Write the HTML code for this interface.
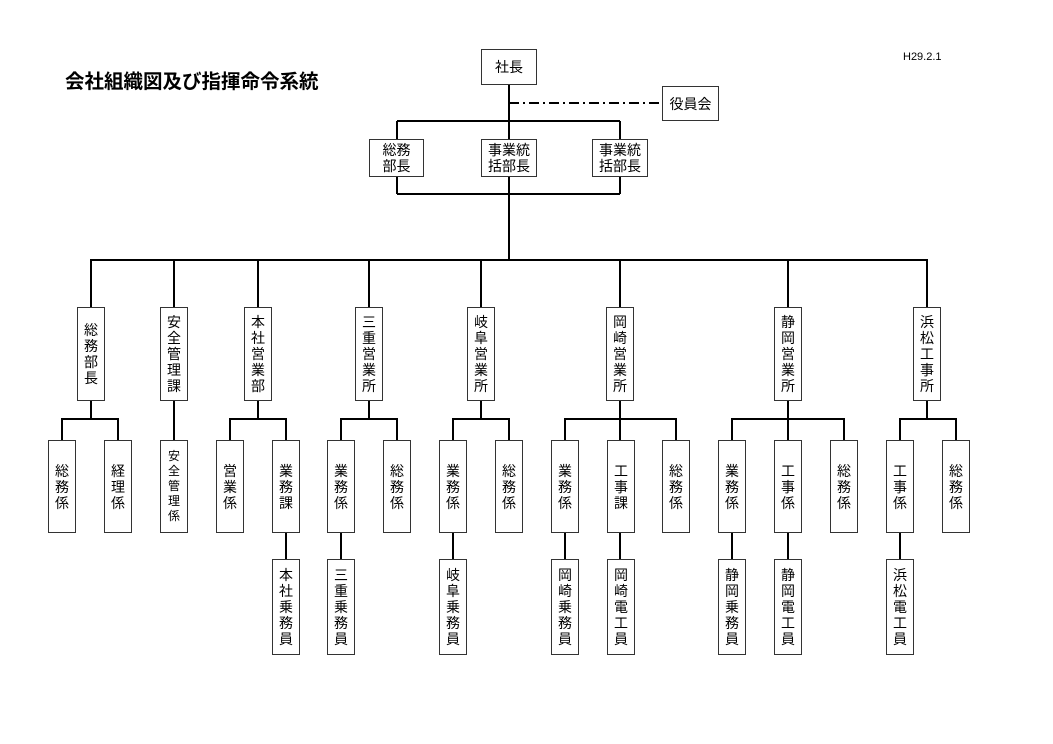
<!DOCTYPE html>
<html><head><meta charset="utf-8"><style>
body{margin:0;width:1053px;height:744px;background:#fff;position:relative;overflow:hidden;font-family:"Liberation Sans","Noto Sans CJK JP",sans-serif;}
.b{position:absolute;border:1px solid #333;background:#fff;box-sizing:border-box;display:flex;align-items:center;justify-content:center;text-align:center;font-size:14px;line-height:16px;color:#000;}
svg{position:absolute;left:0;top:0}
</style></head><body>
<svg width="1053" height="744" stroke="#000" stroke-width="2" fill="none">
<line x1="509" y1="85" x2="509" y2="139"/>
<line x1="397" y1="121" x2="620" y2="121"/>
<line x1="397" y1="121" x2="397" y2="139"/><line x1="620" y1="121" x2="620" y2="139"/>
<line x1="397" y1="177" x2="397" y2="194"/><line x1="620" y1="177" x2="620" y2="194"/>
<line x1="397" y1="194" x2="620" y2="194"/>
<line x1="509" y1="177" x2="509" y2="260"/>
<line x1="509" y1="103" x2="662" y2="103" stroke-dasharray="10,4,2,4"/>
<line x1="90" y1="260" x2="928" y2="260"/>
<g>
<line x1="91" y1="260" x2="91" y2="307"/><line x1="174" y1="260" x2="174" y2="307"/><line x1="258" y1="260" x2="258" y2="307"/><line x1="369" y1="260" x2="369" y2="307"/><line x1="481" y1="260" x2="481" y2="307"/><line x1="620" y1="260" x2="620" y2="307"/><line x1="788" y1="260" x2="788" y2="307"/><line x1="927" y1="260" x2="927" y2="307"/>
<line x1="91" y1="401" x2="91" y2="419"/><line x1="174" y1="401" x2="174" y2="440"/><line x1="258" y1="401" x2="258" y2="419"/><line x1="369" y1="401" x2="369" y2="419"/><line x1="481" y1="401" x2="481" y2="419"/><line x1="620" y1="401" x2="620" y2="419"/><line x1="788" y1="401" x2="788" y2="419"/><line x1="927" y1="401" x2="927" y2="419"/>
<line x1="62" y1="419" x2="118" y2="419"/><line x1="230" y1="419" x2="286" y2="419"/><line x1="341" y1="419" x2="397" y2="419"/><line x1="453" y1="419" x2="509" y2="419"/><line x1="565" y1="419" x2="676" y2="419"/><line x1="732" y1="419" x2="844" y2="419"/><line x1="900" y1="419" x2="956" y2="419"/>
<line x1="62" y1="418" x2="62" y2="440"/><line x1="118" y1="418" x2="118" y2="440"/><line x1="230" y1="418" x2="230" y2="440"/><line x1="286" y1="418" x2="286" y2="440"/><line x1="341" y1="418" x2="341" y2="440"/><line x1="397" y1="418" x2="397" y2="440"/><line x1="453" y1="418" x2="453" y2="440"/><line x1="509" y1="418" x2="509" y2="440"/><line x1="565" y1="418" x2="565" y2="440"/><line x1="620" y1="418" x2="620" y2="440"/><line x1="676" y1="418" x2="676" y2="440"/><line x1="732" y1="418" x2="732" y2="440"/><line x1="788" y1="418" x2="788" y2="440"/><line x1="844" y1="418" x2="844" y2="440"/><line x1="900" y1="418" x2="900" y2="440"/><line x1="956" y1="418" x2="956" y2="440"/>
<line x1="286" y1="533" x2="286" y2="559"/><line x1="341" y1="533" x2="341" y2="559"/><line x1="453" y1="533" x2="453" y2="559"/><line x1="565" y1="533" x2="565" y2="559"/><line x1="620" y1="533" x2="620" y2="559"/><line x1="732" y1="533" x2="732" y2="559"/><line x1="788" y1="533" x2="788" y2="559"/><line x1="900" y1="533" x2="900" y2="559"/>
</g>
</svg>
<div style="position:absolute;left:65px;top:65px;font-size:19.5px;font-weight:bold;">会社組織図及び指揮命令系統</div>
<div style="position:absolute;left:903px;top:51px;font-size:11px;">H29.2.1</div>

<div class="b" style="left:481px;top:49px;width:56px;height:36px">社長</div>
<div class="b" style="left:662px;top:86px;width:57px;height:35px">役員会</div>
<div class="b" style="left:369px;top:139px;width:55px;height:38px">総務<br>部長</div>
<div class="b" style="left:481px;top:139px;width:56px;height:38px">事業統<br>括部長</div>
<div class="b" style="left:592px;top:139px;width:56px;height:38px">事業統<br>括部長</div>

<div class="b" style="left:77px;top:307px;width:28px;height:94px">総<br>務<br>部<br>長</div>
<div class="b" style="left:160px;top:307px;width:28px;height:94px">安<br>全<br>管<br>理<br>課</div>
<div class="b" style="left:244px;top:307px;width:28px;height:94px">本<br>社<br>営<br>業<br>部</div>
<div class="b" style="left:355px;top:307px;width:28px;height:94px">三<br>重<br>営<br>業<br>所</div>
<div class="b" style="left:467px;top:307px;width:28px;height:94px">岐<br>阜<br>営<br>業<br>所</div>
<div class="b" style="left:606px;top:307px;width:28px;height:94px">岡<br>崎<br>営<br>業<br>所</div>
<div class="b" style="left:774px;top:307px;width:28px;height:94px">静<br>岡<br>営<br>業<br>所</div>
<div class="b" style="left:913px;top:307px;width:28px;height:94px">浜<br>松<br>工<br>事<br>所</div>

<div class="b" style="left:48px;top:440px;width:28px;height:93px">総<br>務<br>係</div>
<div class="b" style="left:104px;top:440px;width:28px;height:93px">経<br>理<br>係</div>
<div class="b" style="left:160px;top:440px;width:28px;height:93px;font-size:12px;line-height:15px">安<br>全<br>管<br>理<br>係</div>
<div class="b" style="left:216px;top:440px;width:28px;height:93px">営<br>業<br>係</div>
<div class="b" style="left:272px;top:440px;width:28px;height:93px">業<br>務<br>課</div>
<div class="b" style="left:327px;top:440px;width:28px;height:93px">業<br>務<br>係</div>
<div class="b" style="left:383px;top:440px;width:28px;height:93px">総<br>務<br>係</div>
<div class="b" style="left:439px;top:440px;width:28px;height:93px">業<br>務<br>係</div>
<div class="b" style="left:495px;top:440px;width:28px;height:93px">総<br>務<br>係</div>
<div class="b" style="left:551px;top:440px;width:28px;height:93px">業<br>務<br>係</div>
<div class="b" style="left:607px;top:440px;width:28px;height:93px">工<br>事<br>課</div>
<div class="b" style="left:662px;top:440px;width:28px;height:93px">総<br>務<br>係</div>
<div class="b" style="left:718px;top:440px;width:28px;height:93px">業<br>務<br>係</div>
<div class="b" style="left:774px;top:440px;width:28px;height:93px">工<br>事<br>係</div>
<div class="b" style="left:830px;top:440px;width:28px;height:93px">総<br>務<br>係</div>
<div class="b" style="left:886px;top:440px;width:28px;height:93px">工<br>事<br>係</div>
<div class="b" style="left:942px;top:440px;width:28px;height:93px">総<br>務<br>係</div>

<div class="b" style="left:272px;top:559px;width:28px;height:96px">本<br>社<br>乗<br>務<br>員</div>
<div class="b" style="left:327px;top:559px;width:28px;height:96px">三<br>重<br>乗<br>務<br>員</div>
<div class="b" style="left:439px;top:559px;width:28px;height:96px">岐<br>阜<br>乗<br>務<br>員</div>
<div class="b" style="left:551px;top:559px;width:28px;height:96px">岡<br>崎<br>乗<br>務<br>員</div>
<div class="b" style="left:607px;top:559px;width:28px;height:96px">岡<br>崎<br>電<br>工<br>員</div>
<div class="b" style="left:718px;top:559px;width:28px;height:96px">静<br>岡<br>乗<br>務<br>員</div>
<div class="b" style="left:774px;top:559px;width:28px;height:96px">静<br>岡<br>電<br>工<br>員</div>
<div class="b" style="left:886px;top:559px;width:28px;height:96px">浜<br>松<br>電<br>工<br>員</div>
</body></html>
